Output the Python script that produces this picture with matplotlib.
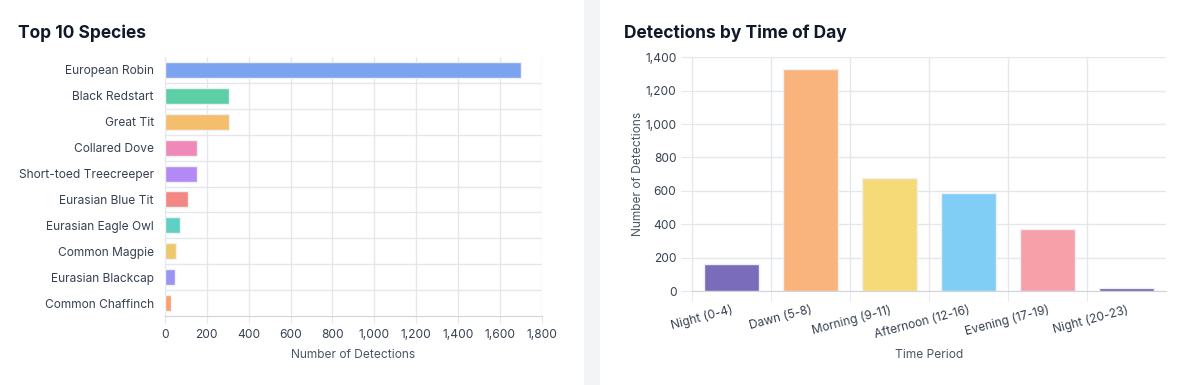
import matplotlib
matplotlib.use("Agg")
import matplotlib.pyplot as plt
from matplotlib.patches import Rectangle
from matplotlib.ticker import FuncFormatter, MultipleLocator
import numpy as np

species = ["European Robin", "Black Redstart", "Great Tit", "Collared Dove",
           "Short-toed Treecreeper", "Eurasian Blue Tit", "Eurasian Eagle Owl",
           "Common Magpie", "Eurasian Blackcap", "Common Chaffinch"]
species_counts = [1702, 308, 307, 152, 152, 109, 71, 52, 49, 27]
species_colors = ["#7ca3f0", "#5dcfa6", "#f4be6c", "#f088b8", "#b38af5",
                  "#f38784", "#5fd0c1", "#eec96b", "#9a94f1", "#f9a070"]

periods = ["Night (0-4)", "Dawn (5-8)", "Morning (9-11)", "Afternoon (12-16)",
           "Evening (17-19)", "Night (20-23)"]
period_counts = [160, 1332, 675, 589, 370, 17]
period_colors = ["#7a6bbb", "#f8b47c", "#f6da78", "#80cef5", "#f8a0aa", "#6f60ae"]

plt.rcParams['font.family'] = ['Inter', 'DejaVu Sans']

W, H = 1184, 385
FS = 8.6
fig = plt.figure(figsize=(W / 100, H / 100), dpi=100)
fig.patch.set_facecolor("white")
fig.patches.append(Rectangle((584 / W, 0), 16 / W, 1, transform=fig.transFigure,
                             facecolor="#f3f4f6", edgecolor="none", zorder=0))

grid_c = "#e5e7eb"
axis_c = "#d1d5db"
tick_c = "#374151"
label_c = "#4b5563"
title_c = "#111827"
fmt = FuncFormatter(lambda v, p: f"{int(v):,}")

# Left chart
ax1 = fig.add_axes([165 / W, 1 - 316 / H, (541.7 - 165) / W, (316 - 57) / H])
y = np.arange(len(species))
ax1.barh(y, species_counts, height=0.62, color=species_colors,
         edgecolor="#eef0f3", linewidth=1, zorder=3)
ax1.set_ylim(len(species) - 0.5, -0.5)
ax1.set_xlim(0, 1800)
ax1.xaxis.set_major_locator(MultipleLocator(200))
ax1.xaxis.set_major_formatter(fmt)
ax1.set_yticks(y)
ax1.set_yticklabels(species)
for b in np.arange(0.5, len(species) - 0.5, 1):
    ax1.axhline(b, color=grid_c, lw=1, zorder=1)
ax1.grid(axis="x", color=grid_c, lw=1, zorder=1)
for s in ["top", "right"]:
    ax1.spines[s].set_visible(False)
ax1.spines["bottom"].set_color(axis_c)
ax1.spines["left"].set_color(grid_c)
ax1.tick_params(axis="x", length=5, color=grid_c, labelsize=FS, labelcolor=tick_c, pad=4)
ax1.tick_params(axis="y", length=0, labelsize=FS, labelcolor=tick_c, pad=8)
ax1.set_xlabel("Number of Detections", fontsize=FS, color=label_c, labelpad=6)
fig.text(18 / W, 1 - 33 / H, "Top 10 Species", fontsize=12.5, fontweight="bold",
         color=title_c, va="center", ha="left")

# Right chart
ax2 = fig.add_axes([691.7 / W, 1 - 291 / H, (1165.7 - 691.7) / W, (291 - 57.3) / H])
x = np.arange(len(periods))
ax2.bar(x, period_counts, width=0.7, color=period_colors,
        edgecolor="#eef0f3", linewidth=1, zorder=3)
ax2.set_xlim(-0.5, len(periods) - 0.5)
ax2.set_ylim(0, 1400)
ax2.yaxis.set_major_locator(MultipleLocator(200))
ax2.yaxis.set_major_formatter(fmt)
ax2.set_xticks(x)
ax2.set_xticklabels(periods, rotation=15, ha="right", rotation_mode="anchor")
ax2.set_xticks(np.arange(-0.5, len(periods) - 0.5, 1), minor=True)
ax2.grid(axis="y", color=grid_c, lw=1, zorder=1)
ax2.grid(axis="x", which="minor", color=grid_c, lw=1, zorder=1)
for s in ["top", "right"]:
    ax2.spines[s].set_visible(False)
ax2.spines["bottom"].set_color(axis_c)
ax2.spines["left"].set_color(grid_c)
ax2.tick_params(axis="x", which="major", length=0, labelsize=FS, labelcolor=tick_c, pad=9)
ax2.tick_params(axis="x", which="minor", length=7, color=grid_c)
ax2.tick_params(axis="y", length=8, color=grid_c, labelsize=FS, labelcolor=tick_c, pad=3)
ax2.set_xlabel("Time Period", fontsize=FS, color=label_c, labelpad=6)
ax2.set_ylabel("Number of Detections", fontsize=FS, color=label_c, labelpad=1)
fig.text(624 / W, 1 - 33 / H, "Detections by Time of Day", fontsize=12.5, fontweight="bold",
         color=title_c, va="center", ha="left")

fig.savefig("out.png", dpi=100, facecolor="white")
